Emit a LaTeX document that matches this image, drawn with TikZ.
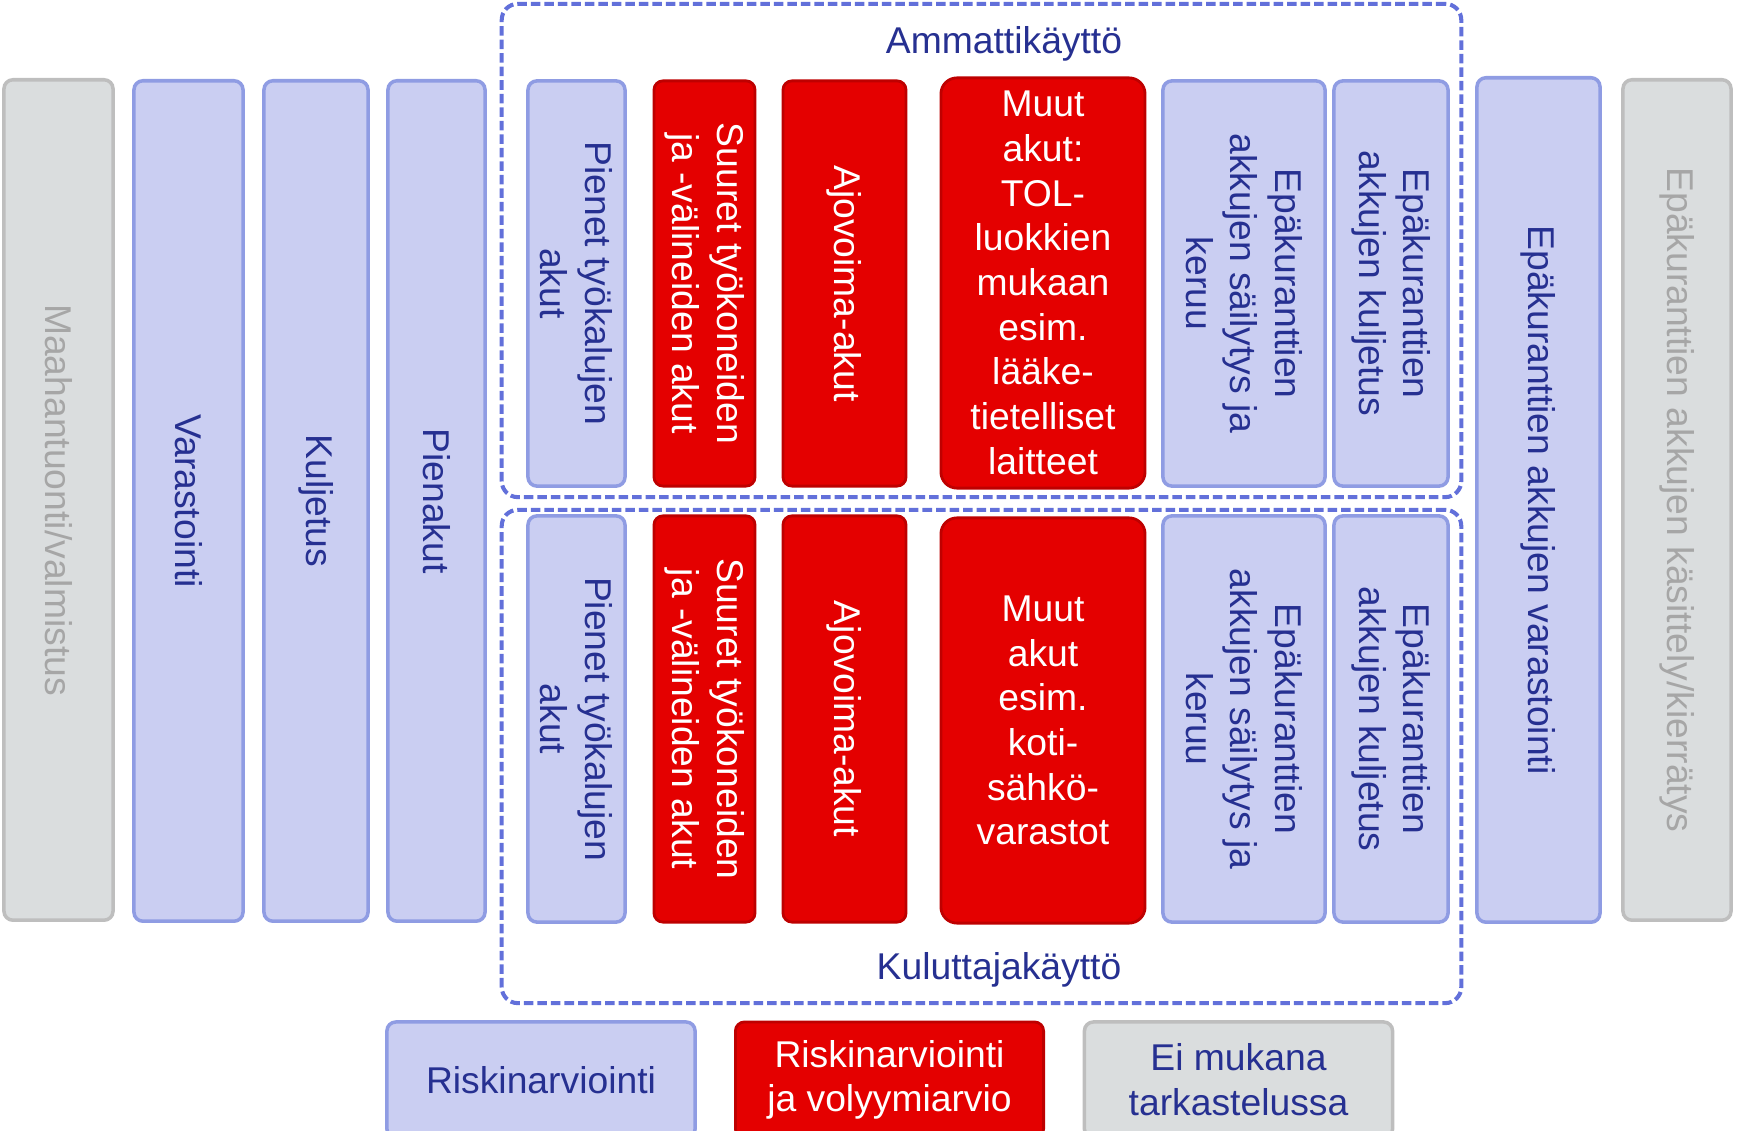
\documentclass[tikz,border=0pt]{standalone}
\usepackage{fontspec}
\setmainfont{Liberation Sans}
\definecolor{lightfill}{RGB}{202,206,242}
\definecolor{lightdraw}{RGB}{143,156,227}
\definecolor{textblue}{RGB}{38,48,145}
\definecolor{redfill}{RGB}{228,0,0}
\definecolor{reddraw}{RGB}{190,0,0}
\definecolor{grayfill}{RGB}{218,221,222}
\definecolor{graydraw}{RGB}{190,190,190}
\definecolor{graytext}{RGB}{166,166,166}
\definecolor{dashblue}{RGB}{98,112,218}
\newcommand\akfont{\fontsize{10.6}{12.7}\selectfont}
\tikzset{
  lbox/.style={draw=lightdraw, fill=lightfill, line width=1pt, rounded corners=0.09cm,
    text=textblue, inner sep=0pt, align=center, font=\akfont},
  rbox/.style={draw=reddraw, fill=redfill, line width=0.8pt, rounded corners=0.09cm,
    text=white, inner sep=0pt, align=center, font=\akfont},
  gbox/.style={draw=graydraw, fill=grayfill, line width=1pt, rounded corners=0.09cm,
    text=graytext, inner sep=0pt, align=center, font=\akfont},
  group/.style={draw=dashblue, line width=1.15pt, rounded corners=0.16cm,
    dash pattern=on 0.095cm off 0.04cm, inner sep=0pt},
  lbl/.style={text=textblue, font=\akfont, inner sep=0pt}
}
\begin{document}
\begin{tikzpicture}[x=0.01cm,y=-0.01cm]
\useasboundingbox (0,0) rectangle (1738,1131);
\clip (0,0) rectangle (1738,1131);
% chain columns
\node[gbox, rotate=-90, minimum width=8.4cm, minimum height=1.09cm] (maah) at (58.5,500) {Maahantuonti/valmistus};
\node[lbox, rotate=-90, minimum width=8.4cm, minimum height=1.09cm] (vara) at (188.5,501) {Varastointi};
\node[lbox, rotate=-90, minimum width=8.4cm, minimum height=1.04cm] (kulj) at (316,501) {Kuljetus};
\node[lbox, rotate=-90, minimum width=8.4cm, minimum height=0.97cm] (pien) at (436.5,501) {Pienakut};
% use groups
\node[group, minimum width=9.59cm, minimum height=4.93cm] (amm) at (981.5,250.5) {};
\node[group, minimum width=9.59cm, minimum height=4.93cm] (kul) at (981.5,756.5) {};
\node[lbl, anchor=base] (ammlbl) at (1004,54) {Ammattikäyttö};
\node[lbl, anchor=base] (kullbl) at (999,980) {Kuluttajakäyttö};
% Ammattikäyttö
\node[lbox, rotate=-90, minimum width=4.05cm, minimum height=0.97cm] (pienetA) at (576.5,283.5) {Pienet työkalujen\\akut};
\node[rbox, rotate=-90, minimum width=4.05cm, minimum height=1.01cm] (suuretA) at (704.5,283.5) {Suuret työkoneiden\\ja -välineiden akut};
\node[rbox, rotate=-90, minimum width=4.05cm, minimum height=1.23cm] (ajoA) at (844.5,283.5) {Ajovoima-akut};
\node[rbox, rounded corners=0.16cm, minimum width=2.04cm, minimum height=4.1cm] (muutA) at (1043,283) {Muut\\akut:\\TOL-\\luokkien\\mukaan\\esim.\\lääke-\\tietelliset\\laitteet};
\node[lbox, rotate=-90, minimum width=4.05cm, minimum height=1.62cm] (sailA) at (1244,283.5) {Epäkuranttien\\akkujen säilytys ja\\keruu};
\node[lbox, rotate=-90, minimum width=4.05cm, minimum height=1.14cm] (kuljA) at (1391,283.5) {Epäkuranttien\\akkujen kuljetus};
% Kuluttajakäyttö
\node[lbox, rotate=-90, minimum width=4.06cm, minimum height=0.97cm] (pienetB) at (576.5,719) {Pienet työkalujen\\akut};
\node[rbox, rotate=-90, minimum width=4.06cm, minimum height=1.01cm] (suuretB) at (704.5,719) {Suuret työkoneiden\\ja -välineiden akut};
\node[rbox, rotate=-90, minimum width=4.06cm, minimum height=1.23cm] (ajoB) at (844.5,719) {Ajovoima-akut};
\node[rbox, rounded corners=0.16cm, minimum width=2.04cm, minimum height=4.05cm] (muutB) at (1043,720.5) {Muut\\akut\\esim.\\koti-\\sähkö-\\varastot};
\node[lbox, rotate=-90, minimum width=4.06cm, minimum height=1.62cm] (sailB) at (1244,719) {Epäkuranttien\\akkujen säilytys ja\\keruu};
\node[lbox, rotate=-90, minimum width=4.06cm, minimum height=1.14cm] (kuljB) at (1391,719) {Epäkuranttien\\akkujen kuljetus};
% end of chain
\node[lbox, rotate=-90, minimum width=8.44cm, minimum height=1.23cm] (epvar) at (1538.5,500) {Epäkuranttien akkujen varastointi};
\node[gbox, rotate=-90, minimum width=8.4cm, minimum height=1.08cm] (epkas) at (1677,500) {Epäkuranttien akkujen käsittely/kierrätys};
% legend
\node[lbox, minimum width=3.08cm, minimum height=1.16cm] (legA) at (541,1080) {Riskinarviointi};
\node[rbox, minimum width=3.08cm, minimum height=1.16cm] (legB) at (889.5,1080) {Riskinarviointi\\ja volyymiarvio};
\node[gbox, text=textblue, minimum width=3.08cm, minimum height=1.16cm] (legC) at (1238.5,1080) {Ei mukana\\tarkastelussa};
\end{tikzpicture}
\end{document}
